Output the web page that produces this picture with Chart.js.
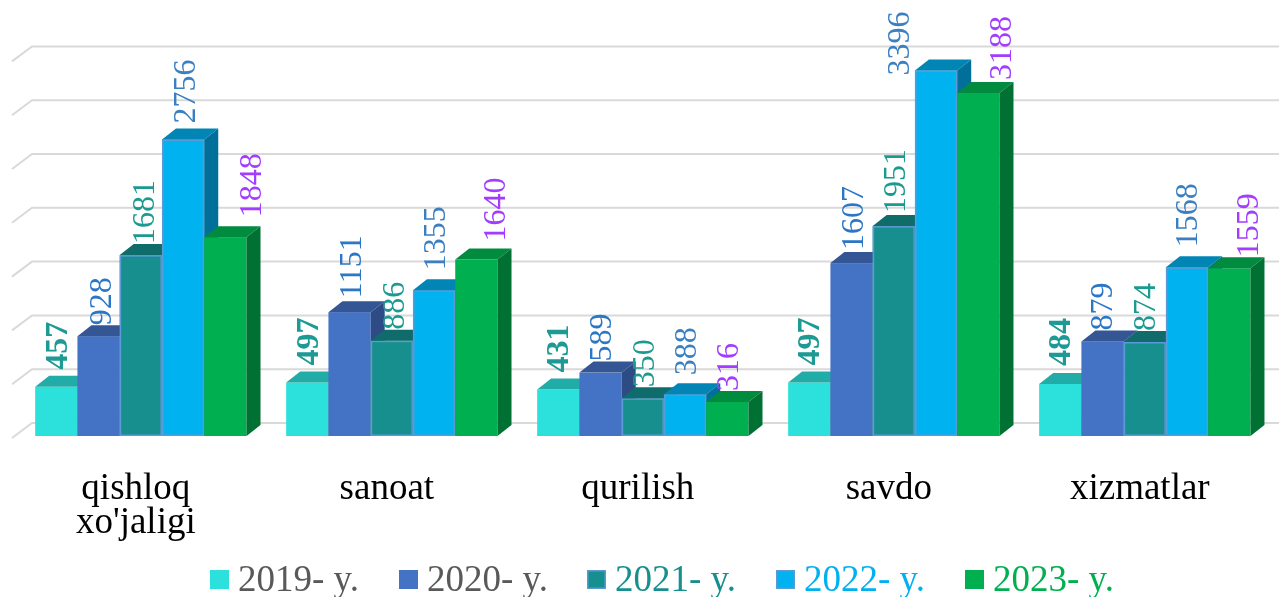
<!DOCTYPE html>
<html><head><meta charset="utf-8">
<script src="https://cdn.jsdelivr.net/npm/chart.js@4.4.1/dist/chart.umd.min.js"></script>
<style>html,body{margin:0;padding:0;background:#fff;overflow:hidden}canvas{display:block}</style>
</head><body>
<canvas id="c" width="1279" height="597"></canvas>
<script>
// ---- data ----
const categories = [['qishloq', "xo'jaligi"], 'sanoat', 'qurilish', 'savdo', 'xizmatlar'];
const seriesNames = ['2019- y.', '2020- y.', '2021- y.', '2022- y.', '2023- y.'];
const v2019 = [457, 497, 431, 497, 484];
const v2020 = [928, 1151, 589, 1607, 879];
const v2021 = [1681, 886, 350, 1951, 874];
const v2022 = [2756, 1355, 388, 3396, 1568];
const v2023 = [1848, 1640, 316, 3188, 1559];
const yTicks = [0, 500, 1000, 1500, 2000, 2500, 3000, 3500];

// ---- styles ----
const frontColors = ['#2ce0dc', '#4472c4', '#178f8e', '#00b2f0', '#00b050'];
const topColors   = ['#22aca8', '#345694', '#106c6b', '#0085b5', '#008b3e'];
const sideColors  = ['#1e9c98', '#2d4c86', '#0d5d5c', '#006f99', '#007033'];
const borderColors = [null, null, '#5b9bd5', '#5b9bd5', null];
const labelColors = ['#1d9a94', '#2b77c6', '#1a9a90', '#3a7fc2', '#a23cff'];
const labelBold = [true, false, false, false, false];
const legendTextColors = ['#595959', '#595959', '#178f8e', '#00b0f0', '#00b050'];
// label nudges [dx from bar centre, gap above top-back edge]
const labelNudge = [
  [[0,6],[0,6],[-1,6],[-1,6],[-1,7]],
  [[1,0],[0,3],[-1,0],[0,2],[-2,0]],
  [[2,0],[1,0],[0,0],[0,2],[-1,0]],
  [[1,5],[0,9],[0,8],[-38,-16],[-1,9]],
  [[25,9],[18,7],[0,0],[22,2],[18,0]]
];
const DX = 14, DY = -11;
const FONT = '"Liberation Serif", "Times New Roman", serif';

const allSeries = [v2019, v2020, v2021, v2022, v2023];

const bars3d = {
  id: 'bars3d',
  beforeDatasetsDraw(chart) {
    const ctx = chart.ctx, ys = chart.scales.y;
    ctx.save();
    ctx.strokeStyle = '#d9d9d9';
    ctx.lineWidth = 2;
    yTicks.forEach(v => {
      const py = ys.getPixelForValue(v);
      ctx.beginPath();
      ctx.moveTo(12, py + 2);
      ctx.lineTo(32, py - 13);
      ctx.lineTo(1279, py - 13);
      ctx.stroke();
    });
    const nCat = categories.length;
    for (let i = 0; i < nCat; i++) {
      for (let d = 0; d < chart.data.datasets.length; d++) {
        const el = chart.getDatasetMeta(d).data[i];
        const p = el.getProps(['x', 'y', 'base', 'width'], true);
        const left = p.x - p.width / 2, right = p.x + p.width / 2, top = p.y, base = p.base;
        ctx.fillStyle = frontColors[d];
        ctx.fillRect(left, top, p.width, base - top);
        if (borderColors[d]) {
          ctx.strokeStyle = borderColors[d];
          ctx.lineWidth = 1.5;
          ctx.strokeRect(left + 0.75, top + 0.75, p.width - 1.5, base - top - 1.5);
        }
        ctx.fillStyle = topColors[d];
        ctx.beginPath();
        ctx.moveTo(left, top); ctx.lineTo(right, top);
        ctx.lineTo(right + DX, top + DY); ctx.lineTo(left + DX, top + DY);
        ctx.closePath(); ctx.fill();
        ctx.fillStyle = sideColors[d];
        ctx.beginPath();
        ctx.moveTo(right, top); ctx.lineTo(right + DX, top + DY);
        ctx.lineTo(right + DX, base + DY); ctx.lineTo(right, base);
        ctx.closePath(); ctx.fill();
      }
    }
    ctx.restore();
    return false;
  },
  afterDraw(chart) {
    const ctx = chart.ctx;
    ctx.save();
    chart.data.datasets.forEach((ds, d) => {
      const meta = chart.getDatasetMeta(d);
      meta.data.forEach((el, i) => {
        const p = el.getProps(['x', 'y'], true);
        const [dx, gap] = labelNudge[d][i];
        ctx.save();
        ctx.translate(p.x + dx + 11, p.y + DY - gap);
        ctx.rotate(-Math.PI / 2);
        ctx.font = (labelBold[d] ? 'bold ' : '') + '32px ' + FONT;
        ctx.fillStyle = labelColors[d];
        ctx.textAlign = 'left';
        ctx.textBaseline = 'alphabetic';
        ctx.fillText(String(ds.data[i]), 0, 0);
        ctx.restore();
      });
    });
    // legend
    const startX = [210, 399, 587, 776, 965];
    ctx.font = '37px ' + FONT;
    ctx.textAlign = 'left';
    ctx.textBaseline = 'alphabetic';
    seriesNames.forEach((name, d) => {
      const x = startX[d];
      ctx.fillStyle = frontColors[d];
      ctx.fillRect(x, 570, 19, 19);
      if (borderColors[d]) {
        ctx.strokeStyle = borderColors[d];
        ctx.lineWidth = 1.5;
        ctx.strokeRect(x + 0.75, 570.75, 17.5, 17.5);
      }
      ctx.fillStyle = legendTextColors[d];
      ctx.fillText(name, x + 28, 591);
    });
    ctx.restore();
  }
};

new Chart(document.getElementById('c'), {
  type: 'bar',
  data: {
    labels: categories,
    datasets: allSeries.map((vals, d) => ({
      label: seriesNames[d],
      data: vals,
      backgroundColor: frontColors[d]
    }))
  },
  options: {
    responsive: false,
    animation: false,
    devicePixelRatio: 1,
    layout: { padding: { left: 15.35, right: 8.7, top: 59.4, bottom: 0 } },
    datasets: { bar: { barPercentage: 1, categoryPercentage: 0.842 } },
    plugins: { legend: { display: false }, tooltip: { enabled: false } },
    scales: {
      y: { display: false, min: 0, max: 3500 },
      x: {
        grid: { display: false },
        border: { display: false },
        ticks: {
          color: '#000',
          padding: 28,
          labelOffset: -5,
          font: { family: FONT, size: 37, lineHeight: 34 / 37 }
        },
        afterFit(scale) { scale.height = 161; }
      }
    }
  },
  plugins: [bars3d]
});
</script>
</body></html>
